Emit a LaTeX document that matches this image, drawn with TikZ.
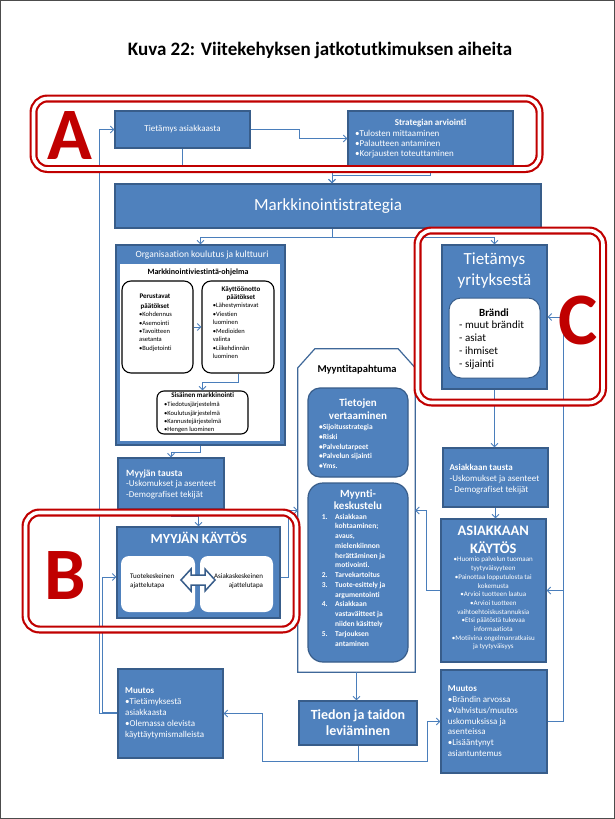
\documentclass[tikz,border=0pt]{standalone}
\usepackage{fontspec}
\setmainfont{Carlito}[Ligatures=NoCommon]
\usetikzlibrary{arrows.meta,calc}
\definecolor{boxblue}{HTML}{4F81BD}
\definecolor{edgeblue}{HTML}{385D8A}
\definecolor{linkblue}{HTML}{4A7EBB}
\definecolor{framered}{HTML}{C00000}
\newcommand\fsz[2]{\fontsize{#1}{#2}\selectfont}
\newcommand\itemnum[1]{\makebox[13.3pt][l]{#1}}
\newcommand\itemgap{\hspace*{13.3pt}}
\begin{document}
\begin{tikzpicture}[x=1pt,y=-1pt,
  bluebox/.style={draw=edgeblue, fill=boxblue, line width=1.2pt, inner sep=0pt},
  whitebox/.style={draw=black, fill=white, line width=1.1pt, rounded corners=9pt, inner sep=0pt},
  conn/.style={draw=linkblue, line width=0.9pt, -{Straight Barb[length=3.5pt,width=7pt]}},
  redframe/.style={draw=framered, line width=2.2pt, double=white, double distance=3.6pt, rounded corners=14pt, inner sep=0pt},
  redletter/.style={text=framered, font=\fsz{74}{74}\bfseries, inner sep=0pt},
  wtext/.style={text=white, inner sep=0pt},
  btext/.style={text=black, inner sep=0pt},
]
\useasboundingbox (0,0) rectangle (615,819);
\draw[line width=1pt, draw=black!70] (0.5,0.5) rectangle (614.5,818.5);

% heading
\node[btext, font=\fsz{19}{23}\bfseries, anchor=base] (title) at (320,55) {Kuva 22: Viitekehyksen jatkotutkimuksen aiheita};

% top row
\node[bluebox, minimum width=135pt, minimum height=37pt, text=white, font=\fsz{9}{11}] (tasiak) at (182.5,129.5) {Tietämys asiakkaasta};
\node[bluebox, minimum width=165pt, minimum height=55pt] (strat) at (430.5,138.5) {};
\node[wtext, font=\fsz{9}{11}\bfseries, anchor=base] (strattitle) at (430.5,125.5) {Strategian arviointi};
\node[wtext, font=\fsz{9}{10.2}, align=left, anchor=north west] (stratlist) at (355,129.1) {\strut•Tulosten mittaaminen\\•Palautteen antaminen\\•Korjausten toteuttaminen};

\node[bluebox, minimum width=426pt, minimum height=44pt, text=white, font=\fsz{17}{20}] (mstrat) at (328,206) {Markkinointistrategia};

% organisation block
\node[bluebox, minimum width=169pt, minimum height=200pt] (org) at (200.5,345) {};
\node[fill=white, minimum width=160pt, minimum height=177pt, inner sep=0pt] (orgin) at (200,352.5) {};
\node[wtext, font=\fsz{9.5}{11}, anchor=base] (orgtitle) at (202,257.4) {Organisaation koulutus ja kulttuuri};
\node[btext, font=\fsz{8}{10}\bfseries, anchor=base] (mvotitle) at (198,274) {Markkinointiviestintä-ohjelma};
\node[whitebox, minimum width=71pt, minimum height=92pt] (perus) at (157.5,327) {};
\node[whitebox, minimum width=72pt, minimum height=92pt] (kaytto) at (238,327) {};
\node[whitebox, rounded corners=7pt, minimum width=91pt, minimum height=43pt] (sisa) at (202.5,412.5) {};
\node[btext, font=\fsz{7}{9.75}\bfseries, align=center, anchor=north] (perustit) at (155,291.9) {\strut Perustavat\\päätökset};
\node[btext, font=\fsz{6.5}{8.3}, align=left, anchor=north west] (perusitems) at (139,310.8) {\strut•Kohdennus\\•Asemointi\\•Tavoitteen\\asetanta\\•Budjetointi};
\node[btext, font=\fsz{7}{8}\bfseries, align=center, anchor=north] (kayttotit) at (241,285.45) {\strut Käyttöönotto\\päätökset};
\node[btext, font=\fsz{6.5}{8.5}, align=left, anchor=north west] (kayttoitems) at (212.7,301.7) {\strut•Lähestymistavat\\•Viestien\\luominen\\•Medioiden\\valinta\\•Liikehdinnän\\luominen};
\node[btext, font=\fsz{7}{8.3}\bfseries, anchor=base] (sisatit) at (202.7,397.5) {Sisäinen markkinointi};
\node[btext, font=\fsz{6.5}{8.3}, align=left, anchor=north west] (sisaitems) at (164,400.8) {\strut•Tiedotusjärjestelmä\\•Koulutusjärjestelmä\\•Kannustejärjestelmä\\•Hengen luominen};

% seller
\node[bluebox, minimum width=106pt, minimum height=51pt] (mtausta) at (171,483.5) {};
\node[wtext, font=\fsz{9}{10.3}, align=left, anchor=north west] (mtaustatext) at (126,469) {\strut{\fsz{9.5}{10.3}\bfseries Myyjän tausta}\\-Uskomukset ja asenteet\\-Demografiset tekijät};
\node[bluebox, minimum width=163pt, minimum height=91pt] (mkaytos) at (198.5,572.5) {};
\node[wtext, font=\fsz{14}{16}\bfseries, anchor=base] (mkaytostitle) at (198.8,543.5) {MYYJÄN KÄYTÖS};
\node[fill=white, rounded corners=8pt, minimum width=74pt, minimum height=56pt, inner sep=0pt] (tuote) at (158,584) {};
\node[fill=white, rounded corners=8pt, minimum width=73pt, minimum height=56pt, inner sep=0pt] (asiakas) at (236.5,584) {};
\node[btext, font=\fsz{7}{9.3}, align=left, anchor=north west] (tuotetext) at (130,571.9) {\strut Tuotekeskeinen\\ajattelutapa};
\node[btext, font=\fsz{7}{9.3}, align=right, anchor=north east] (asiakastext) at (263.3,571.9) {\strut Asiakaskeskeinen\\ajattelutapa};
\draw[draw=edgeblue, fill=white, line width=1.5pt, line join=miter] (181,580) -- (191,569) -- (191,575) -- (205,575) -- (205,569) -- (215,580) -- (205,591) -- (205,585) -- (191,585) -- (191,591) -- cycle;

% sales event
\node[minimum width=117pt, minimum height=323pt, inner sep=0pt] (myynti) at (356.5,510.5) {};
\draw[draw=edgeblue!70!boxblue, fill=white, line width=1.2pt] ($(myynti.north west)+(17,0)$) -- ($(myynti.north east)+(-17,0)$) -- ($(myynti.north east)+(0,19)$) -- (myynti.south east) -- (myynti.south west) -- ($(myynti.north west)+(0,19)$) -- cycle;
\node[btext, font=\fsz{10.5}{12}\bfseries, anchor=base] (myyntitit) at (357,372.6) {Myyntitapahtuma};
\node[bluebox, rounded corners=12pt, minimum width=100pt, minimum height=89pt] (tietoj) at (358,432.5) {};
\node[wtext, font=\fsz{11}{13.3}\bfseries, align=center, anchor=north] (tietojtit) at (358,396.7) {\strut Tietojen\\vertaaminen};
\node[wtext, font=\fsz{7.5}{9.6}\bfseries, align=left, anchor=north west] (tietojitems) at (319,422.9) {\strut•Sijoitusstrategia\\•Riski\\•Palvelutarpeet\\•Palvelun sijainti\\•Yms.};
\node[bluebox, rounded corners=15pt, minimum width=100pt, minimum height=179pt] (myyke) at (358,572.5) {};
\node[wtext, font=\fsz{11}{11}\bfseries, align=center, anchor=north] (myyketit) at (358,490) {\strut Myynti-\\keskustelu};
\node[wtext, font=\fsz{7.5}{9.77}\bfseries, align=left, anchor=north west] (myykeitems) at (321.7,512) {\strut\itemnum{1.}Asiakkaan\\\itemgap kohtaaminen;\\\itemgap avaus,\\\itemgap mielenkiinnon\\\itemgap herättäminen ja\\\itemgap motivointi.\\\itemnum{2.}Tarvekartoitus\\\itemnum{3.}Tuote-esittely ja\\\itemgap argumentointi\\\itemnum{4.}Asiakkaan\\\itemgap vastaväitteet ja\\\itemgap niiden käsittely\\\itemnum{5.}Tarjouksen\\\itemgap antaminen};

\node[bluebox, minimum width=118pt, minimum height=44pt] (tiedon) at (358,723) {};
\node[wtext, font=\fsz{14}{15.7}\bfseries, align=center, anchor=north] (tiedontext) at (358,708.5) {\strut Tiedon ja taidon\\leviäminen};

% changes
\node[bluebox, minimum width=105pt, minimum height=89pt] (muutosL) at (170.5,713.5) {};
\node[wtext, font=\fsz{9}{11}, align=left, anchor=north west] (muutosLtext) at (125,686) {\strut\textbf{Muutos}\\•Tietämyksestä\\asiakkaasta\\•Olemassa olevista\\käyttäytymismalleista};
\node[bluebox, minimum width=106pt, minimum height=103pt] (muutosR) at (494,721.5) {};
\node[wtext, font=\fsz{9}{10.8}, align=left, anchor=north west] (muutosRtext) at (447.7,684) {\strut\textbf{Muutos}\\•Brändin arvossa\\•Vahvistus/muutos\\uskomuksissa ja\\asenteissa\\•Lisääntynyt\\asiantuntemus};

% customer side
\node[bluebox, minimum width=105pt, minimum height=144pt] (tyrit) at (494.5,317) {};
\node[wtext, font=\fsz{17}{20.7}, align=center, anchor=north] (tyrittext) at (494.5,249.8) {\strut Tietämys\\yrityksestä};
\node[draw=edgeblue, fill=white, line width=1pt, rounded corners=12pt, minimum width=91pt, minimum height=80pt, inner sep=0pt] (brandi) at (494.5,338) {};
\node[btext, font=\fsz{11}{13}\bfseries, anchor=base] (branditit) at (494,316.75) {Brändi};
\node[btext, font=\fsz{11}{13}, align=left, anchor=north west] (brandiitems) at (459,319.65) {\strut- muut brändit\\- asiat\\- ihmiset\\- sijainti};
\node[bluebox, minimum width=105pt, minimum height=59pt] (atausta) at (495.5,477.5) {};
\node[wtext, font=\fsz{9}{10.8}, align=left, anchor=north west] (ataustatext) at (449.3,463) {\strut\textbf{Asiakkaan tausta}\\-Uskomukset ja asenteet\\- Demografiset tekijät};
\node[bluebox, minimum width=105pt, minimum height=143pt] (akaytos) at (493.5,590.5) {};
\node[wtext, font=\fsz{14.5}{16.6}\bfseries, align=center, anchor=north] (akaytostit) at (493.3,523.8) {\strut ASIAKKAAN\\KÄYTÖS};
\node[wtext, font=\fsz{7}{8.7}, align=center, anchor=north] (akaytositems) at (493.3,555.7) {\strut•Huomio palvelun tuomaan\\tyytyväisyyteen\\•Painottaa lopputulosta tai\\kokemusta\\•Arvioi tuotteen laatua\\•Arvioi tuotteen\\vaihtoehtoiskustannuksia\\•Etsi päätöstä tukevaa\\informaatiota\\•Motiivina ongelmanratkaisu\\ja tyytyväisyys};

% connectors
\draw[conn] (muutosL.west) -- ++(-18,0) |- (tasiak.west);
\draw[conn] ([yshift=1.5pt]muutosL.west) -- ++(-15,0) |- ([yshift=-4.5pt]mkaytos.west);
\draw[conn] (tasiak.east) -- ++(49,0) |- (strat.west);
\draw[conn] (tasiak.south) -- ++(0,18) -| ([xshift=4pt]mstrat.north);
\draw[conn] (strat.south) -- ++(0,9) -| ([xshift=4pt]mstrat.north);
\draw[conn] ([xshift=4pt]mstrat.south) -- ++(0,9) -| (org.north);
\draw[conn] ([xshift=4pt]mstrat.south) -- ++(0,9) -| (tyrit.north);
\draw[conn] (perus.east) -- (kaytto.west);
\draw[conn] (kaytto.south) -- ++(0,9) -| (sisa.north);
\draw[conn] (org.south) -- ++(0,7) -| (mtausta.north);
\draw[conn] (mtausta.south) -- ++(0,7) -| (mkaytos.north);
\draw[conn] ([yshift=-4.5pt]mkaytos.east) -- ++(8,0) |- (myynti.west);
\draw[conn] (akaytos.west) -- ++(-14,0) |- (myynti.east);
\draw[conn] (tyrit.south) -- (tyrit.south |- atausta.north);
\draw[conn] (atausta.south) -- (atausta.south |- akaytos.north);
\draw[conn] (muutosR.east) -- ++(16,0) |- (tyrit.east);
\draw[conn] (muutosR.east) -- ++(16,0) |- (akaytos.east);
\draw[conn] (myynti.south) -- (myynti.south |- tiedon.north);
\draw[conn] (tiedon.south) -- ++(0,16) -| ($(muutosL.east)+(39,0)$) -- (muutosL.east);
\draw[conn] (tiedon.south) -- ++(0,16) -| ($(muutosR.west)+(-13,0)$) -- (muutosR.west);

% highlighted areas
\node[redframe, minimum width=506pt, minimum height=70.5pt] (frameA) at (286.5,133.75) {};
\node[redframe, minimum width=271pt, minimum height=117pt] (frameB) at (161,571) {};
\node[redframe, minimum width=185.5pt, minimum height=172pt] (frameC) at (510.25,316.5) {};
\node[redletter] (letA) at (70,136) {A};
\node[redletter] (letB) at (65,575) {B};
\node[redletter] (letC) at (578,320) {C};
\end{tikzpicture}
\end{document}
